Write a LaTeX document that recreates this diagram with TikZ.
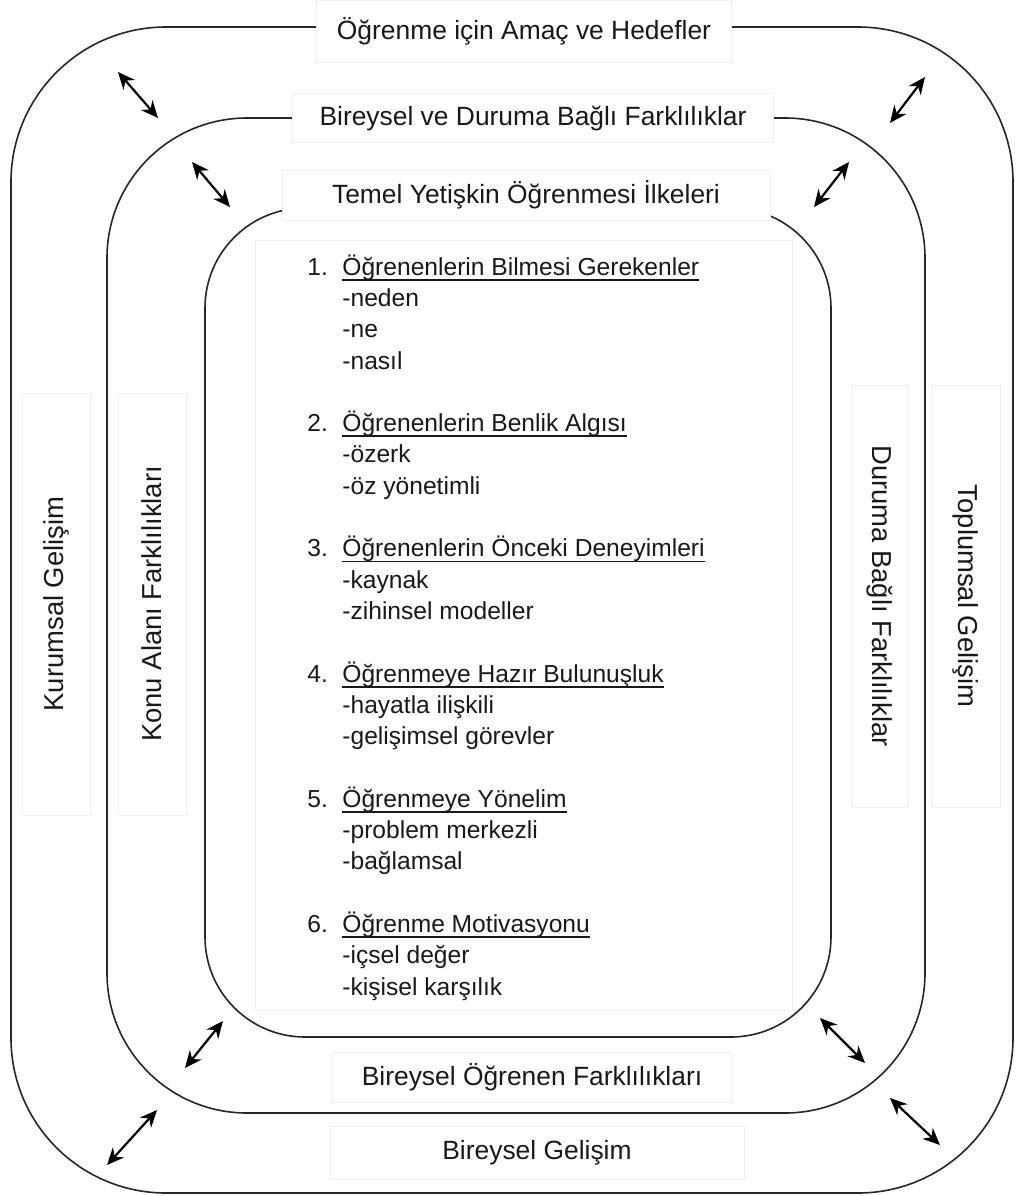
\documentclass[tikz,border=0pt]{standalone}
\usepackage{fontspec}
\setmainfont{Liberation Sans}
\usetikzlibrary{arrows.meta}
\newsavebox{\cizgikutu}
\newcommand{\alticizgi}[1]{\sbox{\cizgikutu}{#1}\rlap{\rule[-2.8pt]{\wd\cizgikutu}{0.9pt}}\usebox{\cizgikutu}}
\newcommand{\baslik}[2]{\makebox[17.5pt][l]{#1}\alticizgi{#2}}
\newcommand{\madde}[1]{\hspace*{17.5pt}#1}
\begin{document}
\begin{tikzpicture}[x=0.5pt,y=-0.5pt,line join=round,line cap=round,
		halka/.style={draw=black!85,line width=0.8pt,rounded corners=#1},
		etiket/.style={fill=white,draw=black!6,line width=0.4pt,inner sep=0pt,text=black!90,font=\fontsize{13.2}{15.8}\selectfont},
		yan/.style={etiket,font=\fontsize{13.7}{16}\selectfont},
		cift/.style={{Stealth[length=8.5pt,width=7.5pt]}-{Stealth[length=8.5pt,width=7.5pt]},line width=1.1pt}]
			\useasboundingbox (0,0) rectangle (1017,1196);
			% halkalar
			\draw[halka=77.5pt] (11,27) rectangle (1013,1193);
			\draw[halka=70pt] (107,118) rectangle (925,1113);
			\draw[halka=50pt] (205,208) rectangle (831,1037);
			% etiketler
			\node[etiket,minimum width=207.5pt,minimum height=31pt] (amac) at (524,31) {Öğrenme için Amaç ve Hedefler};
			\node[etiket,minimum width=240.5pt,minimum height=24.5pt] (farklilik) at (533,118) {Bireysel ve Duruma Bağlı Farklılıklar};
			\node[etiket,minimum width=244pt,minimum height=25pt] (temel) at (526,195) {Temel Yetişkin Öğrenmesi İlkeleri};
			\node[etiket,minimum width=199.5pt,minimum height=25pt] (ogrenen) at (532,1077) {Bireysel Öğrenen Farklılıkları};
			\node[etiket,minimum width=207pt,minimum height=26.5pt] (gelisim) at (537,1153) {Bireysel Gelişim};
			\node[yan,rotate=90,minimum width=211pt,minimum height=34pt] (kurumsal) at (56,604) {Kurumsal Gelişim};
			\node[yan,rotate=90,minimum width=211pt,minimum height=34pt] (konu) at (152,604) {Konu Alanı Farklılıkları};
			\node[yan,rotate=-90,minimum width=211pt,minimum height=28.5pt] (durum) at (880,596) {Duruma Bağlı Farklılıklar};
			\node[yan,rotate=-90,minimum width=211pt,minimum height=34.5pt] (toplum) at (966,596) {Toplumsal Gelişim};
			% ilkeler
			\node[etiket,minimum width=268.5pt,minimum height=385pt] (kutu) at (523.5,625) {};
			\node[anchor=base west,align=left,inner sep=0pt,text=black!90,font=\fontsize{12.3}{15.65}\selectfont] (liste) at (307,995) {%
				\baslik{1.}{Öğrenenlerin Bilmesi Gerekenler}\\
				\madde{-neden}\\ \madde{-ne}\\ \madde{-nasıl}\\[15.65pt]
				\baslik{2.}{Öğrenenlerin Benlik Algısı}\\
				\madde{-özerk}\\ \madde{-öz yönetimli}\\[15.65pt]
				\baslik{3.}{Öğrenenlerin Önceki Deneyimleri}\\
				\madde{-kaynak}\\ \madde{-zihinsel modeller}\\[15.65pt]
				\baslik{4.}{Öğrenmeye Hazır Bulunuşluk}\\
				\madde{-hayatla ilişkili}\\ \madde{-gelişimsel görevler}\\[15.65pt]
				\baslik{5.}{Öğrenmeye Yönelim}\\
				\madde{-problem merkezli}\\ \madde{-bağlamsal}\\[15.65pt]
				\baslik{6.}{Öğrenme Motivasyonu}\\
				\madde{-içsel değer}\\ \madde{-kişisel karşılık}};
			% oklar
			\path
			(118,72) coordinate (ok1a) (158,118) coordinate (ok1b)
			(192,162) coordinate (ok2a) (230,207) coordinate (ok2b)
			(925,77) coordinate (ok3a) (890,123) coordinate (ok3b)
			(849,162) coordinate (ok4a) (814,207) coordinate (ok4b)
			(223,1021) coordinate (ok5a) (185,1068) coordinate (ok5b)
			(157,1110) coordinate (ok6a) (107,1165) coordinate (ok6b)
			(820,1018) coordinate (ok7a) (865,1063) coordinate (ok7b)
			(890,1098) coordinate (ok8a) (940,1145) coordinate (ok8b)
			;
			\draw[cift] (ok1a)--(ok1b);
			\draw[cift] (ok2a)--(ok2b);
			\draw[cift] (ok3a)--(ok3b);
			\draw[cift] (ok4a)--(ok4b);
			\draw[cift] (ok5a)--(ok5b);
			\draw[cift] (ok6a)--(ok6b);
			\draw[cift] (ok7a)--(ok7b);
			\draw[cift] (ok8a)--(ok8b);
\end{tikzpicture}
\end{document}
